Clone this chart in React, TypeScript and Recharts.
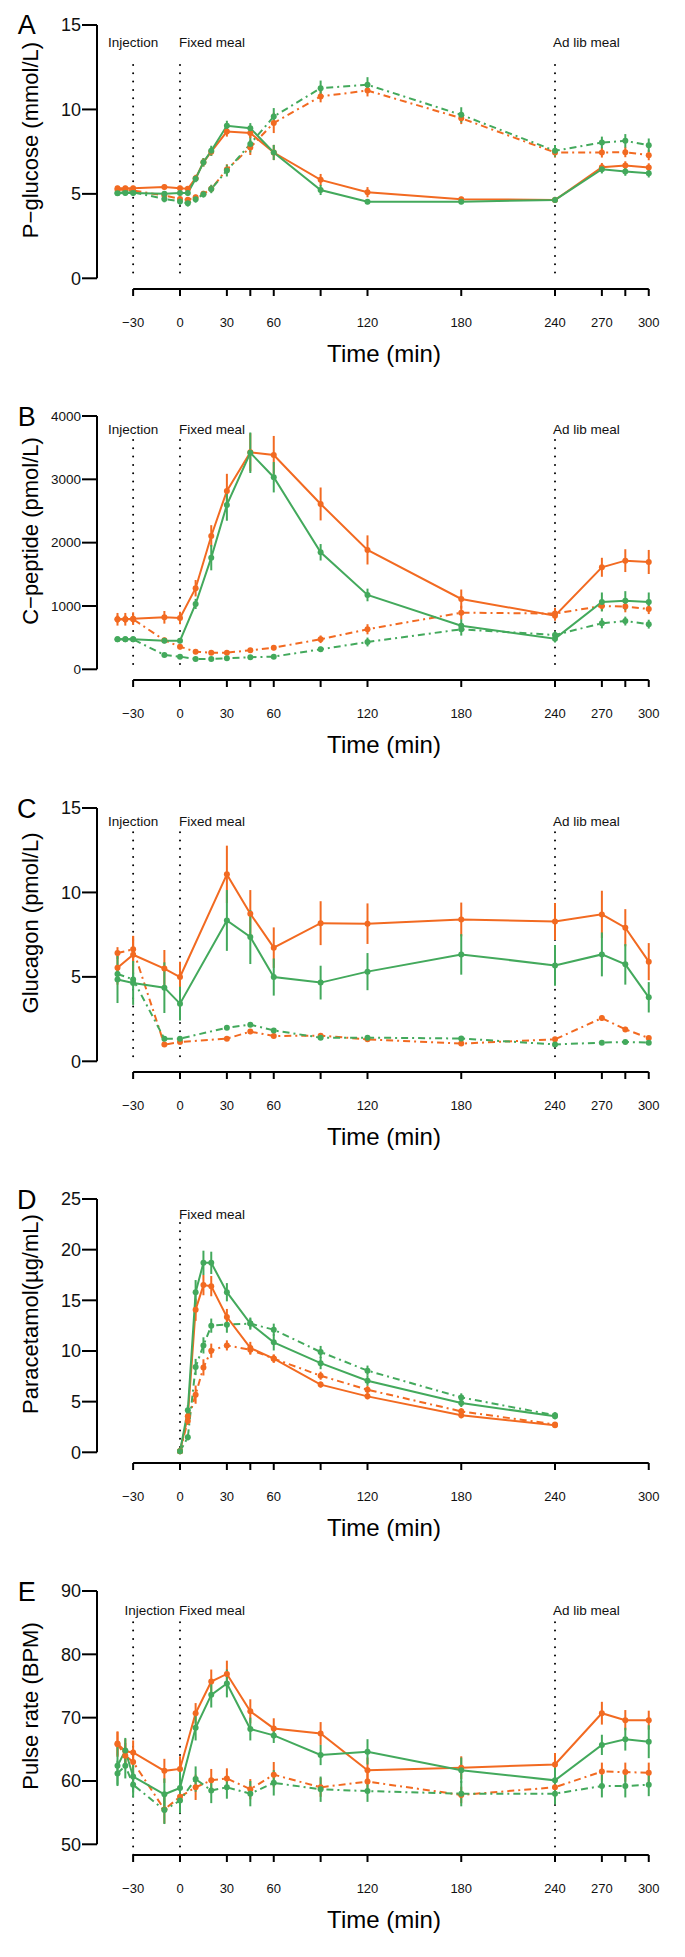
import { LineChart, Line, XAxis, YAxis, ReferenceLine, ErrorBar } from "recharts";

// Four groups per panel: orange / green, solid / dash-dot. Means ± SE.

const ORANGE = "#F26A21";
const GREEN = "#43A95C";
const FONT = "'Liberation Sans', Arial, Helvetica, sans-serif";

// shared time axis
const X_DOMAIN: [number, number] = [-53.12, 313.6];
const X_TICKS = [-30, 0, 30, 45, 60, 90, 120, 180, 240, 270, 285, 300];
const X_LABELS = [-30, 0, 30, 60, 120, 180, 240, 270, 300];
const X_TICKS_D = [-30, 0, 30, 45, 60, 90, 120, 180, 240, 300];
const X_LABELS_D = [-30, 0, 30, 60, 120, 180, 240, 300];

// A: P-glucose (mmol/L)
const glucoseT = [-40, -35, -30, -10, 0, 5, 10, 15, 20, 30, 45, 60, 90, 120, 180, 240, 270, 285, 300];
const glucoseOrangeSolid = [5.33, 5.33, 5.33, 5.4, 5.33, 5.3, 5.93, 6.87, 7.5, 8.69, 8.6, 7.45, 5.83, 5.1, 4.68, 4.64, 6.58, 6.68, 6.56];
const glucoseOrangeSolidSe = [0.15, 0.15, 0.15, 0.15, 0.15, 0.15, 0.2, 0.25, 0.25, 0.3, 0.3, 0.45, 0.35, 0.3, 0.15, 0.15, 0.25, 0.25, 0.25];
const glucoseGreenSolid = [5.04, 5.05, 5.05, 5.0, 5.05, 5.05, 5.89, 6.87, 7.55, 9.03, 8.89, 7.45, 5.23, 4.54, 4.54, 4.64, 6.46, 6.32, 6.22];
const glucoseGreenSolidSe = [0.15, 0.15, 0.15, 0.15, 0.15, 0.15, 0.2, 0.25, 0.3, 0.3, 0.3, 0.45, 0.3, 0.15, 0.15, 0.15, 0.25, 0.25, 0.25];
const glucoseOrangeDash = [5.25, 5.25, 5.2, 4.9, 4.7, 4.65, 4.8, 5.0, 5.3, 6.45, 7.75, 9.2, 10.77, 11.12, 9.48, 7.45, 7.45, 7.47, 7.29];
const glucoseOrangeDashSe = [0.15, 0.15, 0.15, 0.15, 0.15, 0.15, 0.15, 0.15, 0.2, 0.3, 0.45, 0.6, 0.35, 0.35, 0.35, 0.3, 0.3, 0.3, 0.3];
const glucoseGreenDash = [5.05, 5.1, 5.1, 4.7, 4.55, 4.45, 4.68, 4.98, 5.29, 6.38, 7.96, 9.58, 11.26, 11.46, 9.68, 7.55, 8.04, 8.14, 7.88];
const glucoseGreenDashSe = [0.15, 0.15, 0.15, 0.2, 0.2, 0.2, 0.2, 0.2, 0.25, 0.35, 0.5, 0.5, 0.45, 0.45, 0.45, 0.35, 0.35, 0.4, 0.4];

// B: C-peptide (pmol/L)
const cpepT = [-40, -35, -30, -10, 0, 10, 20, 30, 45, 60, 90, 120, 180, 240, 270, 285, 300];
const cpepOrangeSolid = [790, 790, 800, 821, 810, 1280, 2106, 2817, 3428, 3385, 2611, 1885, 1110, 847, 1611, 1716, 1695];
const cpepOrangeSolidSe = [100, 100, 100, 100, 100, 130, 170, 270, 300, 300, 260, 230, 150, 80, 150, 180, 190];
const cpepGreenSolid = [474, 474, 474, 452, 452, 1032, 1763, 2596, 3420, 3033, 1848, 1174, 689, 484, 1063, 1084, 1063];
const cpepGreenSolidSe = [40, 40, 40, 40, 40, 80, 200, 250, 320, 240, 130, 100, 100, 60, 150, 150, 150];
const cpepOrangeDash = [790, 790, 790, 460, 357, 278, 263, 263, 300, 341, 474, 632, 894, 880, 1000, 990, 952];
const cpepOrangeDashSe = [60, 60, 60, 40, 40, 30, 30, 30, 30, 40, 60, 80, 110, 90, 80, 90, 80];
const cpepGreenDash = [474, 474, 474, 226, 200, 163, 163, 174, 190, 200, 316, 431, 632, 542, 727, 762, 713];
const cpepGreenDashSe = [30, 30, 30, 30, 30, 20, 20, 20, 20, 20, 40, 70, 100, 60, 80, 70, 70];

// C: Glucagon (pmol/L)
const glucagonT = [-40, -30, -10, 0, 30, 45, 60, 90, 120, 180, 240, 270, 285, 300];
const glucagonOrangeSolid = [5.54, 6.31, 5.49, 4.99, 11.07, 8.74, 6.73, 8.18, 8.15, 8.4, 8.28, 8.7, 7.91, 5.9];
const glucagonOrangeSolidSe = [1.0, 1.1, 1.1, 0.9, 1.7, 1.4, 1.2, 1.3, 1.2, 1.0, 1.1, 1.4, 1.1, 1.1];
const glucagonGreenSolid = [4.85, 4.64, 4.36, 3.41, 8.34, 7.36, 4.99, 4.66, 5.31, 6.33, 5.68, 6.33, 5.74, 3.79];
const glucagonGreenSolidSe = [1.4, 1.3, 1.5, 1.0, 1.8, 1.6, 1.1, 1.0, 1.1, 1.2, 1.2, 1.3, 1.2, 0.9];
const glucagonOrangeDash = [6.41, 6.63, 0.99, 1.14, 1.34, 1.76, 1.5, 1.52, 1.3, 1.05, 1.3, 2.56, 1.89, 1.38];
const glucagonOrangeDashSe = [0.35, 0.8, 0.1, 0.1, 0.1, 0.15, 0.12, 0.12, 0.1, 0.1, 0.1, 0.15, 0.15, 0.1];
const glucagonGreenDash = [5.17, 4.85, 1.34, 1.34, 1.99, 2.17, 1.83, 1.4, 1.4, 1.35, 1.0, 1.1, 1.15, 1.1];
const glucagonGreenDashSe = [0.3, 0.4, 0.1, 0.1, 0.1, 0.12, 0.1, 0.1, 0.1, 0.1, 0.1, 0.1, 0.1, 0.1];

// D: Paracetamol (µg/mL)
const paraT = [0, 5, 10, 15, 20, 30, 45, 60, 90, 120, 180, 240];
const paraOrangeSolid = [0.1, 3.55, 14.07, 16.5, 16.4, 13.35, 10.3, 9.24, 6.68, 5.52, 3.65, 2.66];
const paraOrangeSolidSe = [0.1, 0.5, 1.1, 1.0, 1.0, 0.8, 0.6, 0.4, 0.3, 0.3, 0.3, 0.2];
const paraGreenSolid = [0.1, 4.14, 15.8, 18.7, 18.7, 15.8, 12.7, 10.85, 8.8, 7.07, 4.87, 3.55];
const paraGreenSolidSe = [0.1, 0.5, 1.2, 1.2, 1.1, 0.9, 0.6, 0.8, 0.6, 0.5, 0.4, 0.3];
const paraOrangeDash = [0.1, 3.1, 5.69, 8.38, 10.03, 10.55, 10.13, 9.25, 7.56, 6.18, 4.04, 2.75];
const paraOrangeDashSe = [0.1, 0.4, 0.9, 0.8, 0.7, 0.5, 0.5, 0.4, 0.4, 0.4, 0.3, 0.2];
const paraGreenDash = [0.1, 1.48, 8.42, 10.55, 12.5, 12.6, 12.7, 12.1, 9.9, 8.06, 5.42, 3.65];
const paraGreenDashSe = [0.1, 0.3, 0.8, 0.8, 0.7, 0.8, 0.5, 0.6, 0.6, 0.5, 0.4, 0.3];

// E: Pulse rate (BPM)
const pulseT = [-40, -35, -30, -10, 0, 10, 20, 30, 45, 60, 90, 120, 180, 240, 270, 285, 300];
const pulseOrangeSolid = [65.9, 64.7, 64.5, 61.6, 61.9, 70.7, 75.7, 76.9, 71.0, 68.3, 67.5, 61.7, 62.1, 62.6, 70.7, 69.6, 69.6];
const pulseOrangeSolidSe = [1.9, 1.9, 1.9, 1.9, 2.0, 1.6, 1.9, 2.1, 1.9, 1.6, 1.8, 2.0, 1.8, 1.8, 1.8, 1.6, 1.5];
const pulseGreenSolid = [62.4, 64.8, 60.7, 57.9, 58.9, 68.4, 73.6, 75.4, 68.2, 67.2, 64.1, 64.6, 61.7, 60.1, 65.7, 66.6, 66.2];
const pulseGreenSolidSe = [3.0, 2.0, 2.5, 2.5, 3.0, 2.0, 2.0, 2.2, 1.8, 1.2, 1.6, 2.0, 2.0, 2.0, 1.6, 1.8, 2.6];
const pulseOrangeDash = [65.8, 64.0, 63.0, 55.5, 57.5, 59.0, 60.1, 60.4, 58.7, 61.0, 59.0, 59.9, 57.8, 59.0, 61.5, 61.4, 61.3];
const pulseOrangeDashSe = [2.0, 2.0, 2.0, 2.2, 2.0, 2.0, 1.8, 1.6, 1.6, 2.0, 1.5, 1.5, 1.3, 1.3, 1.4, 1.5, 1.6];
const pulseGreenDash = [61.2, 62.4, 59.4, 55.4, 56.9, 60.3, 58.5, 59.0, 58.0, 59.7, 58.7, 58.4, 58.0, 58.0, 59.2, 59.2, 59.4];
const pulseGreenDashSe = [2.0, 2.0, 2.0, 2.2, 2.0, 2.0, 2.0, 1.8, 2.0, 2.0, 2.0, 1.7, 2.0, 1.7, 1.8, 1.8, 1.8];

interface EventMark {
  t: number;
  label: string;
  anchor: "start" | "middle";
  dx: number;
}

interface PanelSpec {
  letter: string;
  yLabel: string;
  top: number;
  yTicks: number[];
  yTickFont: number;
  times: number[];
  os: number[]; ose: number[];
  gs: number[]; gse: number[];
  od: number[]; ode: number[];
  gd: number[]; gde: number[];
  events: EventMark[];
  eventTop: number;
  eventBottom: number;
  labelDy: number;
  xTicks: number[];
  xLabels: number[];
}

const INJ: EventMark = { t: -30, label: "Injection", anchor: "middle", dx: 0 };
const FIXED: EventMark = { t: 0, label: "Fixed meal", anchor: "start", dx: -1 };
const ADLIB: EventMark = { t: 240, label: "Ad lib meal", anchor: "start", dx: -2 };

const PANELS: PanelSpec[] = [
  {
    letter: "A", yLabel: "P\u2212glucose (mmol/L)", top: 0, yTicks: [0, 5, 10, 15], yTickFont: 18,
    times: glucoseT,
    os: glucoseOrangeSolid, ose: glucoseOrangeSolidSe, gs: glucoseGreenSolid, gse: glucoseGreenSolidSe,
    od: glucoseOrangeDash, ode: glucoseOrangeDashSe, gd: glucoseGreenDash, gde: glucoseGreenDashSe,
    events: [INJ, FIXED, ADLIB], eventTop: 12.63, eventBottom: 0, labelDy: -18.5,
    xTicks: X_TICKS, xLabels: X_LABELS,
  },
  {
    letter: "B", yLabel: "C\u2212peptide (pmol/L)", top: 391, yTicks: [0, 1000, 2000, 3000, 4000], yTickFont: 13.5,
    times: cpepT,
    os: cpepOrangeSolid, ose: cpepOrangeSolidSe, gs: cpepGreenSolid, gse: cpepGreenSolidSe,
    od: cpepOrangeDash, ode: cpepOrangeDashSe, gd: cpepGreenDash, gde: cpepGreenDashSe,
    events: [INJ, FIXED, ADLIB], eventTop: 3621, eventBottom: 0, labelDy: -5.7,
    xTicks: X_TICKS, xLabels: X_LABELS,
  },
  {
    letter: "C", yLabel: "Glucagon (pmol/L)", top: 782.5, yTicks: [0, 5, 10, 15], yTickFont: 18,
    times: glucagonT,
    os: glucagonOrangeSolid, ose: glucagonOrangeSolidSe, gs: glucagonGreenSolid, gse: glucagonGreenSolidSe,
    od: glucagonOrangeDash, ode: glucagonOrangeDashSe, gd: glucagonGreenDash, gde: glucagonGreenDashSe,
    events: [INJ, FIXED, ADLIB], eventTop: 13.57, eventBottom: 0, labelDy: -5.7,
    xTicks: X_TICKS, xLabels: X_LABELS,
  },
  {
    letter: "D", yLabel: "Paracetamol(\u00b5g/mL)", top: 1174.3, yTicks: [0, 5, 10, 15, 20, 25], yTickFont: 18,
    times: paraT,
    os: paraOrangeSolid, ose: paraOrangeSolidSe, gs: paraGreenSolid, gse: paraGreenSolidSe,
    od: paraOrangeDash, ode: paraOrangeDashSe, gd: paraGreenDash, gde: paraGreenDashSe,
    events: [FIXED], eventTop: 22.64, eventBottom: 0, labelDy: -4,
    xTicks: X_TICKS_D, xLabels: X_LABELS_D,
  },
  {
    letter: "E", yLabel: "Pulse rate (BPM)", top: 1565.7, yTicks: [50, 60, 70, 80, 90], yTickFont: 18,
    times: pulseT,
    os: pulseOrangeSolid, ose: pulseOrangeSolidSe, gs: pulseGreenSolid, gse: pulseGreenSolidSe,
    od: pulseOrangeDash, ode: pulseOrangeDashSe, gd: pulseGreenDash, gde: pulseGreenDashSe,
    events: [{ ...INJ, anchor: "start", dx: -8.7 }, FIXED, ADLIB], eventTop: 85.06, eventBottom: 48.3, labelDy: -7.4,
    xTicks: X_TICKS, xLabels: X_LABELS,
  },
];

const W = 685;
const H = 391;
const PLOT_H = 264; // plot top (max tick) down to the detached x axis line
const AXIS_GAP = 10.7; // px between lowest y tick and x axis line
const DASH = "7 4 2 4";

function makeXTick(labels: number[]) {
  return (props: any) => {
    const { x, y, payload } = props;
    const v = payload.value as number;
    return (
      <g>
        <line x1={x} x2={x} y1={y} y2={y + 7} stroke="#000" strokeWidth={2} />
        {labels.includes(v) && (
          <text x={x} y={y + 37.5} textAnchor="middle" fontSize={13} fontFamily={FONT} fill="#111">
            {v < 0 ? `\u2212${-v}` : v}
          </text>
        )}
      </g>
    );
  };
}

function Panel({ spec }: { spec: PanelSpec }) {
  const yMin = spec.yTicks[0];
  const yMax = spec.yTicks[spec.yTicks.length - 1];
  const yLo = yMin - (AXIS_GAP * (yMax - yMin)) / (PLOT_H - AXIS_GAP);

  const data = spec.times.map((t, i) => ({
    t,
    os: spec.os[i], ose: spec.ose[i],
    gs: spec.gs[i], gse: spec.gse[i],
    od: spec.od[i], ode: spec.ode[i],
    gd: spec.gd[i], gde: spec.gde[i],
  }));

  const series = [
    { key: "od", err: "ode", color: ORANGE, dash: DASH },
    { key: "gd", err: "gde", color: GREEN, dash: DASH },
    { key: "os", err: "ose", color: ORANGE, dash: undefined },
    { key: "gs", err: "gse", color: GREEN, dash: undefined },
  ];

  return (
    <div style={{ position: "absolute", left: 0, top: spec.top, width: W, height: H }}>
      <LineChart width={W} height={H} data={data} margin={{ top: 25, right: 15, bottom: 42, left: 37 }}>
        <XAxis
          type="number"
          dataKey="t"
          domain={X_DOMAIN}
          ticks={spec.xTicks}
          axisLine={false}
          tickLine={false}
          tickSize={0}
          tickMargin={0}
          height={60}
          interval={0}
          tick={makeXTick(spec.xLabels)}
          allowDataOverflow
        />
        <YAxis
          type="number"
          domain={[yLo, yMax]}
          ticks={spec.yTicks}
          axisLine={false}
          tickLine={{ stroke: "#000", strokeWidth: 2 }}
          tickSize={15}
          tickMargin={1}
          width={60}
          interval={0}
          tick={{ fontSize: spec.yTickFont, fontFamily: FONT, fill: "#111" }}
          allowDataOverflow
        />
        {/* detached R-style axis lines */}
        <ReferenceLine
          segment={[{ x: X_DOMAIN[0], y: yMin }, { x: X_DOMAIN[0], y: yMax }]}
          stroke="#000"
          strokeWidth={2}
          ifOverflow="visible"
        />
        <ReferenceLine
          segment={[{ x: -30, y: yLo }, { x: 300, y: yLo }]}
          stroke="#000"
          strokeWidth={2}
          ifOverflow="visible"
        />
        {spec.events.map((ev) => (
          <ReferenceLine
            key={ev.label}
            segment={[{ x: ev.t, y: spec.eventTop }, { x: ev.t, y: spec.eventBottom }]}
            stroke="#000"
            strokeWidth={2}
            strokeLinecap="round"
            strokeDasharray="0 8.3"
            ifOverflow="visible"
            label={(p: any) => {
              const vb = p.viewBox || {};
              return (
                <text
                  x={(vb.x ?? 0) + ev.dx}
                  y={(vb.y ?? 0) + spec.labelDy}
                  textAnchor={ev.anchor}
                  fontSize={13.5}
                  fontFamily={FONT}
                  fill="#111"
                >
                  {ev.label}
                </text>
              );
            }}
          />
        ))}
        {series.map((s) => (
          <Line
            key={s.key}
            type="linear"
            dataKey={s.key}
            stroke={s.color}
            strokeWidth={2}
            strokeDasharray={s.dash}
            dot={{ r: 3, fill: s.color, stroke: s.color, strokeWidth: 0 }}
            activeDot={false}
            isAnimationActive={false}
          >
            <ErrorBar dataKey={s.err} direction="y" width={0} stroke={s.color} strokeWidth={2} isAnimationActive={false} />
          </Line>
        ))}
      </LineChart>
      <svg width={W} height={H} style={{ position: "absolute", left: 0, top: 0, pointerEvents: "none" }}>
        <text x={26.7} y={spec.letter === "A" ? 33.5 : 35} textAnchor="middle" fontSize={27} fontFamily={FONT} fill="#000">
          {spec.letter}
        </text>
        <text
          transform="translate(30,140) rotate(-90)"
          textAnchor="middle"
          dominantBaseline="central"
          fontSize={22}
          fontFamily={FONT}
          fill="#000"
        >
          {spec.yLabel}
        </text>
        <text x={384} y={361.5} textAnchor="middle" fontSize={24} fontFamily={FONT} fill="#000">
          Time (min)
        </text>
      </svg>
    </div>
  );
}

export default function App() {
  return (
    <div style={{ position: "absolute", left: 0, top: 0, width: W, height: 1957, background: "#fff" }}>
      {PANELS.map((p) => (
        <Panel key={p.letter} spec={p} />
      ))}
    </div>
  );
}
